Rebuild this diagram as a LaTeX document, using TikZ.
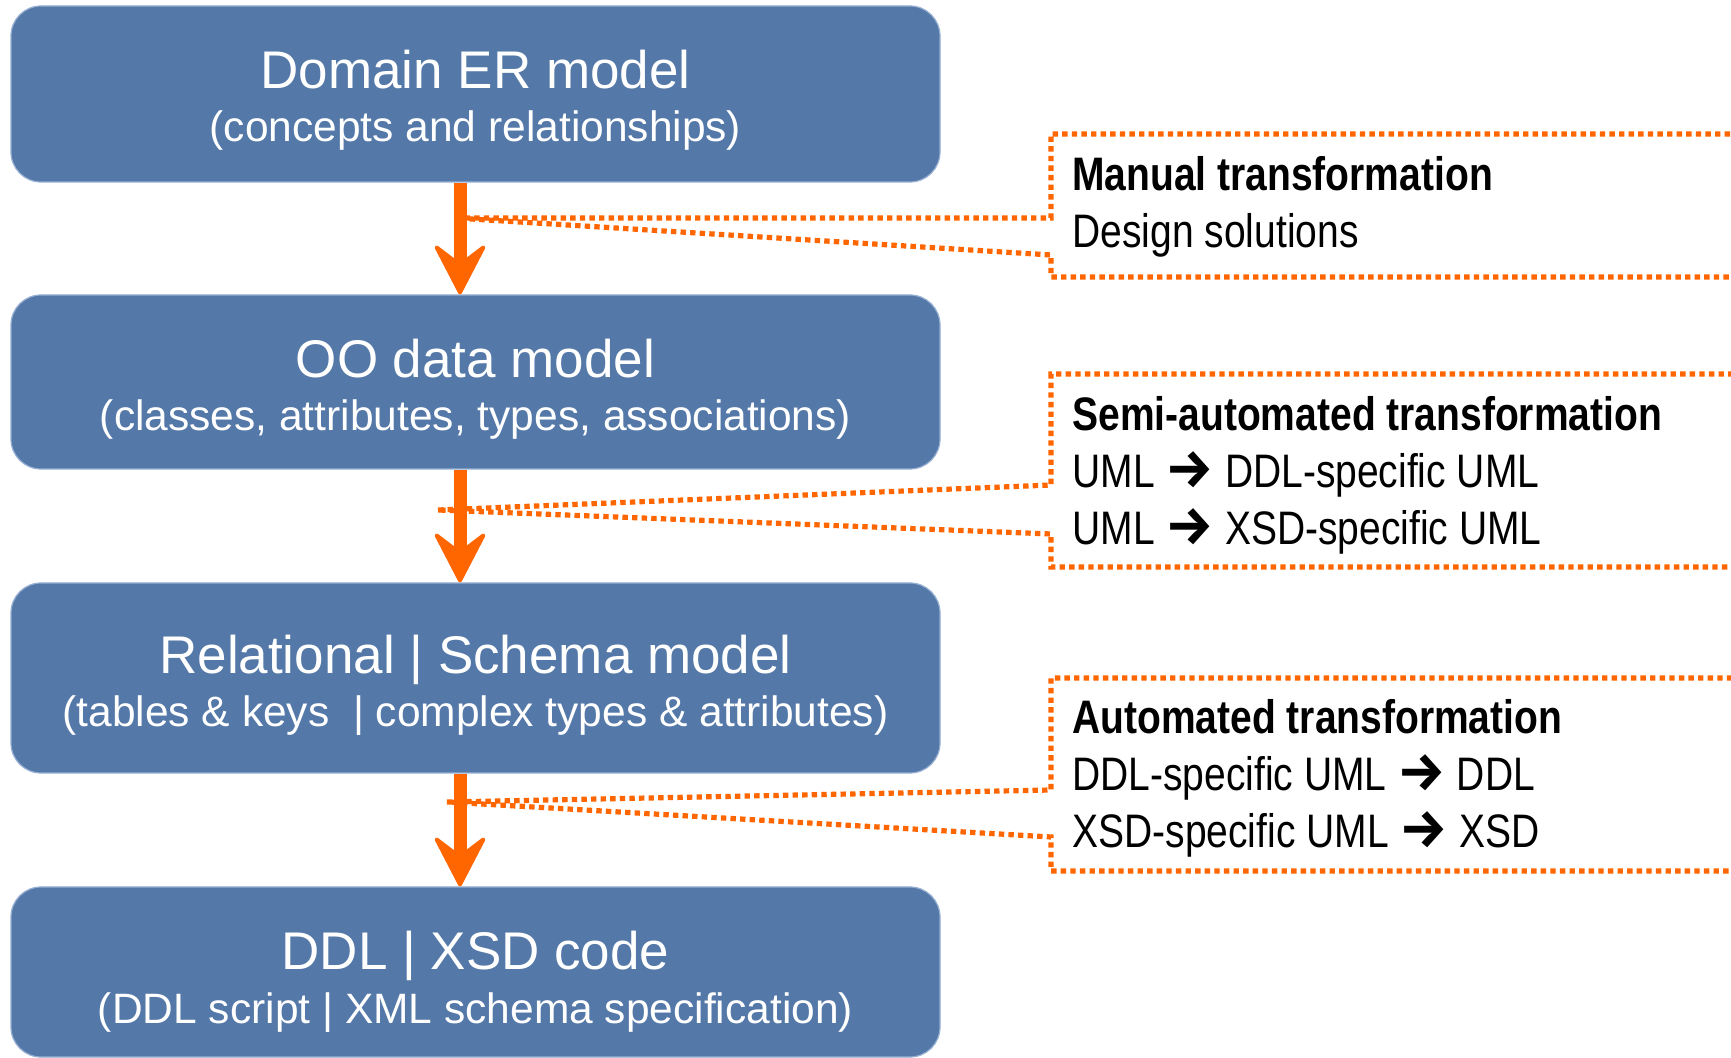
\documentclass[tikz,border=0pt]{standalone}
\usepackage{fontspec}
\setmainfont{Liberation Sans}
\newfontfamily\callfont[FakeStretch=0.83]{Liberation Sans}
\newfontfamily\arrowfont{Fira Sans}
\usetikzlibrary{arrows.meta}
\definecolor{boxblue}{RGB}{84,120,168}
\definecolor{boxedge}{RGB}{150,175,210}
\definecolor{flow}{RGB}{255,102,0}
\newcommand{\tarrow}{{\arrowfont\bfseries\fontsize{27pt}{28pt}\selectfont\char"2192}}
\tikzset{
  modelbox/.style={rounded corners=15pt, fill=boxblue, draw=boxedge, line width=0.6pt,
    minimum width=464.5pt, inner sep=0pt},
  titletext/.style={anchor=base, text=white, font=\fontsize{26.5pt}{30pt}\selectfont, inner sep=0pt},
  subtext/.style={anchor=base, text=white, font=\fontsize{21.25pt}{25pt}\selectfont, inner sep=0pt},
  headtext/.style={anchor=base west, text=black, font=\callfont\bfseries\fontsize{23.5pt}{28pt}\selectfont, inner sep=0pt},
  bodytext/.style={anchor=base west, text=black, font=\callfont\fontsize{23.5pt}{28pt}\selectfont, inner sep=0pt},
  callout/.style={draw=flow, line width=2.6pt, dash pattern=on 2.7pt off 2.1pt},
  flowarrow/.style={draw=flow, line width=6.5pt,
    -{Stealth[length=28pt, width=29pt, inset=11pt, line width=2pt, round]}}
}
\begin{document}
\begin{tikzpicture}[x=0.5pt, y=-0.5pt]
\clip (0,0) rectangle (1731,1058);
\fill[white] (0,0) rectangle (1731,1058);

% model boxes
\node[modelbox, minimum height=88pt] (b1) at (475.5,94) {};
\node[modelbox, minimum height=87pt] (b2) at (475.5,382) {};
\node[modelbox, minimum height=95pt] (b3) at (475.5,678) {};
\node[modelbox, minimum height=85pt] (b4) at (475.5,972) {};

\node[titletext] (b1t) at (475.5,89) {Domain ER model};
\node[subtext] (b1s) at (475.5,142) {(concepts and relationships)};
\node[titletext] (b2t) at (475.5,378) {OO data model};
\node[subtext] (b2s) at (475.5,431) {(classes, attributes, types, associations)};
\node[titletext] (b3t) at (475.5,674) {Relational | Schema model};
\node[subtext] (b3s) at (475.5,727) {(tables \& keys\ \ | complex types \& attributes)};
\node[titletext] (b4t) at (475.5,970) {DDL | XSD code};
\node[subtext] (b4s) at (475.5,1023) {(DDL script | XML schema specification)};

% callout pointer tips on the flow arrows
\coordinate (t1) at (455,218);
\coordinate (t2) at (438,510);
\coordinate (t3) at (447,802);

% callout frames
\draw[callout] (t1) -- (1051,218) -- (1051,134) -- (1780,134) -- (1780,277) -- (1051,277) -- (1051,255) -- cycle;
\draw[callout] (t2) -- (1051,485) -- (1051,374) -- (1780,374) -- (1780,567) -- (1051,567) -- (1051,534) -- cycle;
\draw[callout] (t3) -- (1051,790) -- (1051,678) -- (1780,678) -- (1780,871) -- (1051,871) -- (1051,837) -- cycle;

% callout texts
\node[headtext] (c1a) at (1072,191) {Manual transformation};
\node[bodytext] (c1b) at (1072,248) {Design solutions};
\node[headtext] (c2a) at (1072,431) {Semi-automated transformation};
\node[bodytext] (c2b) at (1072,488) {UML \tarrow{} DDL-specific UML};
\node[bodytext] (c2c) at (1072,545) {UML \tarrow{} XSD-specific UML};
\node[headtext] (c3a) at (1072,734) {Automated transformation};
\node[bodytext] (c3b) at (1072,791) {DDL-specific UML \tarrow{} DDL};
\node[bodytext] (c3c) at (1072,848) {XSD-specific UML \tarrow{} XSD};

% flow arrows
\coordinate (ax) at (460,0);
\draw[flowarrow] (b1.south -| ax) -- (b2.north -| ax);
\draw[flowarrow] (b2.south -| ax) -- (b3.north -| ax);
\draw[flowarrow] (b3.south -| ax) -- (b4.north -| ax);
\end{tikzpicture}
\end{document}
